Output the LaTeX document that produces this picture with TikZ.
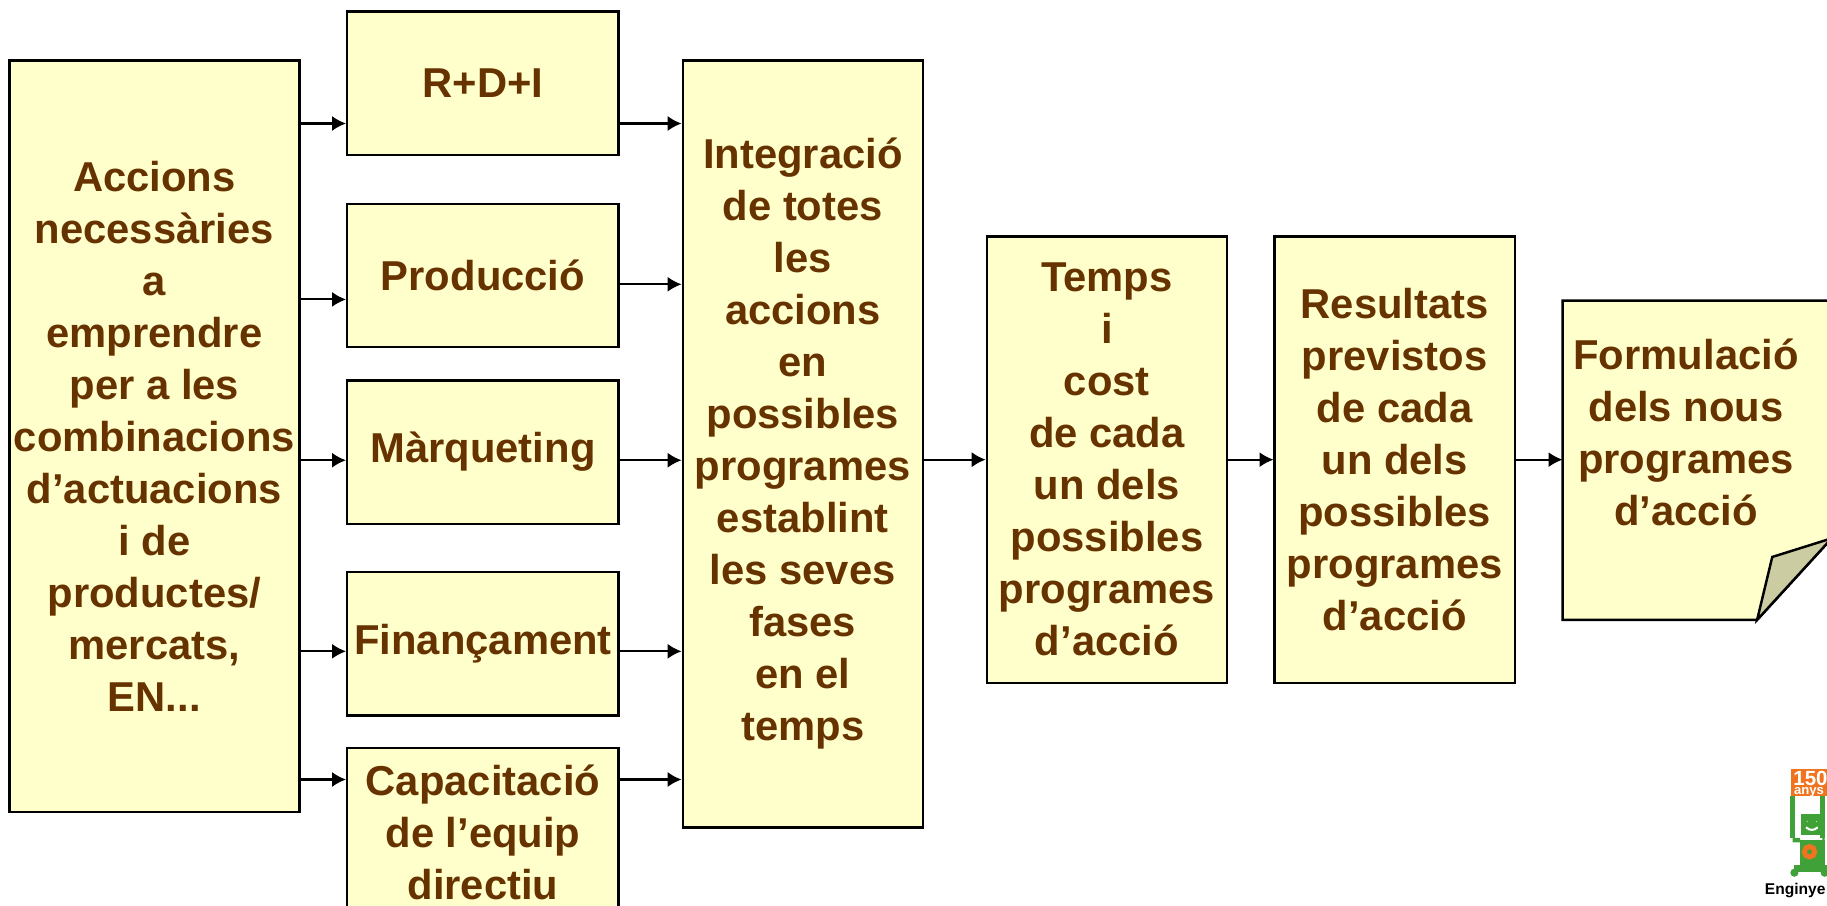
\documentclass[tikz,border=0pt]{standalone}
\usepackage{fontspec}
\setmainfont{Liberation Sans}
\usetikzlibrary{calc,arrows.meta}

\definecolor{bfill}{rgb}{1.00,1.00,0.80}
\definecolor{btext}{rgb}{0.40,0.20,0.00}
\definecolor{bfold}{rgb}{0.80,0.80,0.64}
\definecolor{lorange}{rgb}{0.94,0.45,0.12}
\definecolor{lgreen}{rgb}{0.25,0.63,0.22}

\begin{document}
\begin{tikzpicture}[>=Latex,
    blk/.style={draw, line width=0.6pt, fill=bfill, text=btext, align=center, inner sep=0pt,
        font=\fontsize{10.2}{12.7}\selectfont\bfseries},
    lnk/.style={-{Latex[length=1.2mm,width=1.3mm]}, line width=0.5pt}]

    \useasboundingbox (0,0) rectangle (15.68,-7.77);
    \clip (0,0) rectangle (15.68,-7.77);

    \node[blk, minimum width=2.49cm, minimum height=6.45cm] (acc) at (1.325,-3.745)
        {Accions\\necessàries\\a\\emprendre\\per a les\\combinacions\\d’actuacions\\i de\\productes/\\mercats,\\EN...};

    \foreach \n/\y/\t in {rdi/0.715/R+D+I, prod/2.365/Producció, marq/3.88/Màrqueting, fin/5.525/Finançament}{
      \node[blk, minimum width=2.33cm, minimum height=1.23cm] (\n) at (4.145,-\y) {\t};
    }
    \node[blk, minimum width=2.33cm, minimum height=1.44cm] (cap) at (4.145,-7.14)
        {Capacitació\\de l’equip\\directiu};

    \node[blk, minimum width=2.06cm, minimum height=6.58cm] (integ) at (6.89,-3.81)
        {Integració\\de totes\\les\\accions\\en\\possibles\\programes\\establint\\les seves\\fases\\en el\\temps};
    \node[blk, minimum width=2.06cm, minimum height=3.83cm] (temps) at (9.50,-3.945)
        {Temps\\i\\cost\\de cada\\un dels\\possibles\\programes\\d’acció};
    \node[blk, minimum width=2.06cm, minimum height=3.83cm] (res) at (11.97,-3.945)
        {Resultats\\previstos\\de cada\\un dels\\possibles\\programes\\d’acció};

    % full de nota amb la punta doblegada
    \draw[fill=bfill, line width=0.6pt] (13.41,-2.58) -- (15.72,-2.58) -- (15.72,-4.62)
        -- (15.08,-5.32) -- (13.41,-5.32) -- cycle;
    \draw[fill=bfold, line width=0.6pt] (15.08,-5.32) -- (15.21,-4.78) -- (15.72,-4.62) -- cycle;
    \coordinate (formw) at (13.41,-3.93);
    \node[blk, draw=none, fill=none] (form) at (14.47,-3.71)
        {Formulació\\dels nous\\programes\\d’acció};

    \foreach \n/\yi/\yo in {rdi/1.06/1.06, prod/2.57/2.44, marq/3.95/3.95, fin/5.59/5.59, cap/6.69/6.69}{
      \draw[lnk] (acc.east |- 0,-\yi) -- (\n.west |- 0,-\yi);
      \draw[lnk] (\n.east |- 0,-\yo) -- (integ.west |- 0,-\yo);
    }
    \draw[lnk] (integ.east |- temps.west) -- (temps.west);
    \draw[lnk] (temps.east) -- (res.west);
    \draw[lnk] (res.east) -- (res.east -| formw);

    % logotip
    \fill[lorange] (15.37,-6.60) rectangle (15.72,-6.83);
    \node[text=white, font=\fontsize{5}{5}\selectfont\bfseries, anchor=north west, inner sep=0pt] (l150) at (15.385,-6.61) {150};
    \node[text=white, font=\fontsize{3.2}{3.2}\selectfont\bfseries, anchor=north west, inner sep=0pt] (lanys) at (15.39,-6.75) {anys};
    \draw[lgreen, line width=1.2pt] (15.385,-6.83) -- (15.385,-7.19) (15.64,-6.83) -- (15.64,-7.19);
    \fill[lgreen] (15.46,-6.99) rectangle (15.64,-7.17);
    \fill[lgreen] (15.45,-7.21) rectangle (15.66,-7.42);
    \fill[lgreen] (15.385,-7.19) rectangle (15.45,-7.23) (15.64,-7.19) rectangle (15.66,-7.23);
    \draw[white, line width=0.5pt] (15.50,-7.10) .. controls (15.53,-7.13) and (15.57,-7.13) .. (15.60,-7.10);
    \fill[white] (15.51,-7.05) circle (0.12pt) (15.59,-7.05) circle (0.12pt);
    \draw[lorange, line width=1.2pt] (15.53,-7.31) circle (0.045);
    \fill[lgreen] (15.40,-7.42) rectangle (15.68,-7.48);
    \fill[lgreen] (15.40,-7.49) circle (0.035) (15.66,-7.49) circle (0.035);
    \node[font=\fontsize{3.8}{3.8}\selectfont\bfseries, anchor=base west, inner sep=0pt] (leng) at (15.14,-7.68) {Enginye};

\end{tikzpicture}
\end{document}
